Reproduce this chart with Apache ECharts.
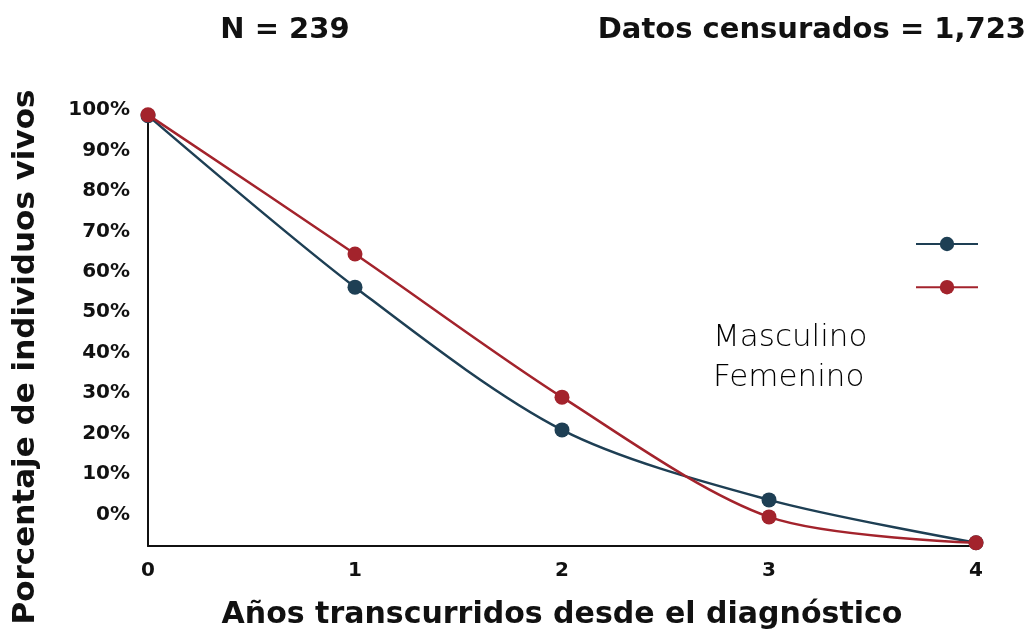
<!DOCTYPE html>
<html><head><meta charset="utf-8">
<script src="https://cdn.jsdelivr.net/npm/echarts@6/dist/echarts.min.js"></script>
<style>html,body{margin:0;padding:0;background:#fff}#c{width:1035px;height:632px}</style>
</head><body><div id="c"></div>
<script>
const years = [0, 1, 2, 3, 4];
const masculino = [98.6, 56.2, 20.9, 3.6, -7.0];
const femenino = [98.8, 64.4, 29.0, -0.6, -7.0];
const yTicks = [0, 10, 20, 30, 40, 50, 60, 70, 80, 90, 100];
const seriesNames = ['Masculino', 'Femenino'];
const titleN = 'N = 239';
const titleCens = 'Datos censurados = 1,723';
const xName = 'Años transcurridos desde el diagnóstico';
const yName = 'Porcentaje de individuos vivos';

const FONT = '"DejaVu Sans", sans-serif';
const chart = echarts.init(document.getElementById('c'));
const pairs = a => years.map((x, i) => [x, a[i]]);
chart.setOption({
  animation: false,
  backgroundColor: '#fff',
  grid: { left: 148, right: 59, top: 110, bottom: 86, containLabel: false, outerBoundsMode: 'none' },
  title: [
    { text: titleN, left: 280, top: 11, textAlign: 'center',
      textStyle: { fontFamily: FONT, fontWeight: 'bold', fontSize: 29, color: '#111' } },
    { text: titleCens, right: 4, top: 11,
      textStyle: { fontFamily: FONT, fontWeight: 'bold', fontSize: 29, color: '#111' } }
  ],
  legend: {
    orient: 'vertical', left: 910, top: 230, itemWidth: 62, itemHeight: 18, itemGap: 27,
    formatter: () => '', textStyle: { fontSize: 1 },
    data: seriesNames, selectedMode: false
  },
  graphic: [
    { type: 'text', left: 713, top: 318, style: { text: seriesNames.join('\n'), font: '300 31px "DejaVu Sans", sans-serif', fill: '#000', lineHeight: 40 } },
    { type: 'text', x: 26, y: 357, rotation: Math.PI / 2,
      style: { text: yName, font: 'bold 31px "DejaVu Sans", sans-serif', fill: '#111', align: 'center', verticalAlign: 'middle' } }
  ],
  xAxis: {
    type: 'value', min: 0, max: 4, interval: 1,
    name: xName, nameLocation: 'middle', nameGap: 54,
    nameTextStyle: { fontFamily: FONT, fontWeight: 'bold', fontSize: 30, color: '#111' },
    axisLine: { show: true, onZero: false, lineStyle: { color: '#111', width: 2 } },
    axisTick: { show: false }, splitLine: { show: false },
    axisLabel: { fontFamily: FONT, fontWeight: 'bold', fontSize: 20, color: '#111', margin: 15 }
  },
  yAxis: {
    type: 'value', min: -7.8, max: 100,
    axisLine: { show: true, onZero: false, lineStyle: { color: '#111', width: 2 } },
    axisTick: { show: false }, splitLine: { show: false },
    axisLabel: { customValues: yTicks, formatter: v => Math.round(v) + '%',
      fontFamily: FONT, fontWeight: 'bold', fontSize: 20, color: '#111', margin: 18 }
  },
  series: [
    { name: seriesNames[0], type: 'line', data: pairs(masculino), smooth: 0.3,
      symbol: 'circle', symbolSize: 15, showSymbol: true,
      lineStyle: { color: '#1e3f54', width: 2.5 }, itemStyle: { color: '#1e3f54' }, z: 2 },
    { name: seriesNames[1], type: 'line', data: pairs(femenino), smooth: 0.3,
      symbol: 'circle', symbolSize: 15, showSymbol: true,
      lineStyle: { color: '#a3232c', width: 2.5 }, itemStyle: { color: '#a3232c' }, z: 3 }
  ]
});
</script></body></html>
